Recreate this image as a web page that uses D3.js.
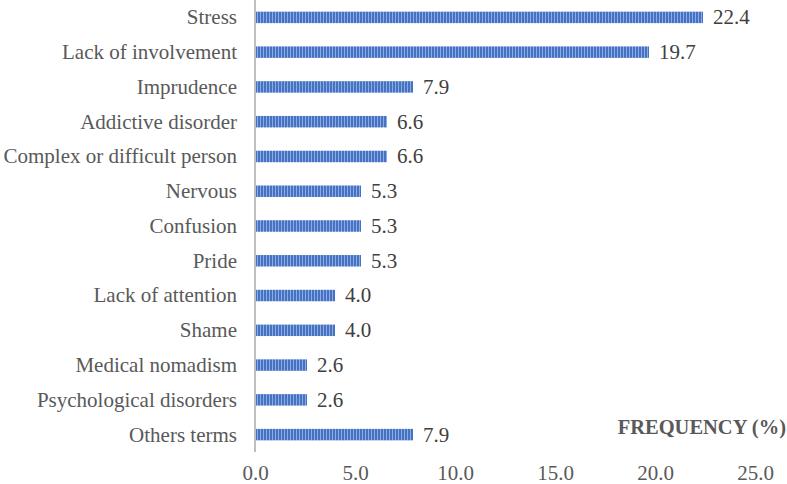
<!DOCTYPE html>
<html>
<head>
<meta charset="utf-8">
<script src="https://cdn.jsdelivr.net/npm/d3@7"></script>
<style>
  html, body { margin: 0; padding: 0; background: #ffffff; }
  svg { display: block; }
  svg text { font-family: "Liberation Serif", "Times New Roman", Times, "DejaVu Serif", serif; }
</style>
</head>
<body>
<svg id="chart" width="787" height="484"></svg>
<script>
const categories = [
  "Stress", "Lack of involvement", "Imprudence", "Addictive disorder",
  "Complex or difficult person", "Nervous", "Confusion", "Pride",
  "Lack of attention", "Shame", "Medical nomadism",
  "Psychological disorders", "Others terms"
];
const values = [22.4, 19.7, 7.9, 6.6, 6.6, 5.3, 5.3, 5.3, 4.0, 4.0, 2.6, 2.6, 7.9];
const xTicks = [0, 5, 10, 15, 20, 25];
const axisTitle = "FREQUENCY (%)";

const svg = d3.select("#chart");

// stripe pattern for bars
const defs = svg.append("defs");
const pat = defs.append("pattern")
  .attr("id", "stripes")
  .attr("patternUnits", "userSpaceOnUse")
  .attr("width", 3).attr("height", 10);
pat.append("rect").attr("width", 3).attr("height", 10).attr("fill", "#4472c4");
pat.append("rect").attr("x", 2).attr("width", 1).attr("height", 10).attr("fill", "#8faadc");

const x = d3.scaleLinear().domain([0, 25]).range([255, 755]);
const y = d3.scaleBand().domain(categories).range([0, 452])
  .paddingInner(0.67).paddingOuter(0.335);

// bars
svg.append("g").selectAll("rect")
  .data(categories)
  .join("rect")
  .attr("x", x(0))
  .attr("y", d => y(d))
  .attr("width", (d, i) => x(values[i]) - x(0))
  .attr("height", y.bandwidth())
  .attr("fill", "url(#stripes)");

// vertical axis line
svg.append("line")
  .attr("x1", x(0)).attr("x2", x(0))
  .attr("y1", 0).attr("y2", 452)
  .attr("stroke", "#bfbfbf").attr("stroke-width", 2);

// category labels
svg.append("g").selectAll("text")
  .data(categories)
  .join("text")
  .attr("x", x(0) - 18)
  .attr("y", d => y(d) + y.bandwidth() / 2)
  .attr("dy", "0.33em")
  .attr("text-anchor", "end")
  .style("font-size", "21px")
  .attr("fill", "#595959")
  .text(d => d);

// value labels
svg.append("g").selectAll("text")
  .data(categories)
  .join("text")
  .attr("x", (d, i) => x(values[i]) + 10)
  .attr("y", d => y(d) + y.bandwidth() / 2)
  .attr("dy", "0.33em")
  .style("font-size", "21px")
  .attr("fill", "#404040")
  .text((d, i) => values[i].toFixed(1));

// x tick labels
const xAxis = d3.axisBottom(x).tickValues(xTicks).tickFormat(d3.format(".1f")).tickSize(0).tickPadding(0);
const gx = svg.append("g").attr("transform", "translate(0,464)").call(xAxis);
gx.select(".domain").remove();
gx.selectAll("text")
  .attr("font-family", null)
  .attr("font-size", null)
  .style("font-size", "21px")
  .attr("fill", "#595959")
  .attr("dy", "0.78em");
gx.attr("font-family", null).attr("font-size", null);

// axis title
svg.append("text")
  .attr("x", 786)
  .attr("y", 434)
  .attr("text-anchor", "end")
  .style("font-size", "20.5px")
  .style("font-weight", "bold")
  .attr("fill", "#595959")
  .text(axisTitle);
</script>
</body>
</html>
